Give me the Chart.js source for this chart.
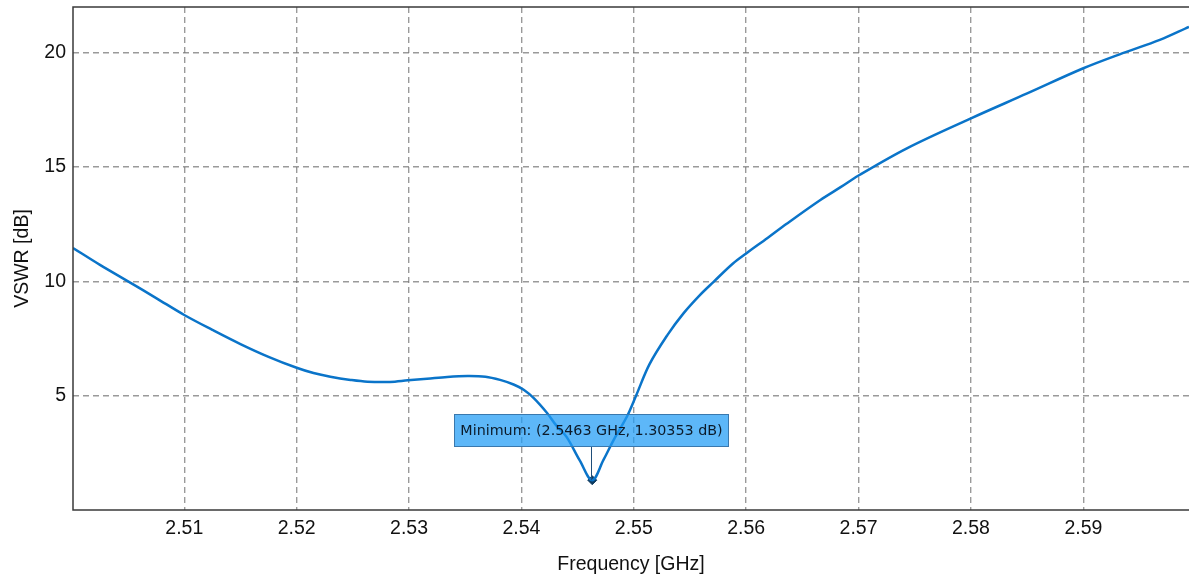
<!DOCTYPE html>
<html>
<head>
<meta charset="utf-8">
<script src="https://cdn.jsdelivr.net/npm/chart.js@4/dist/chart.umd.min.js"></script>
<style>
  html, body { margin: 0; padding: 0; background: #fff; overflow: hidden; }
  #wrap { width: 1189px; height: 578px; position: relative; }
</style>
</head>
<body>
<div id="wrap"><canvas id="vswr-chart"></canvas></div>
<script>
// values
const freqGHz = [
  2.5001, 2.5025, 2.5050, 2.5075, 2.5100, 2.5125, 2.5150, 2.5175, 2.5200, 2.5215,
  2.5230, 2.5248, 2.5263, 2.5283, 2.5299, 2.5316, 2.5334, 2.5352, 2.5368, 2.5381,
  2.5393, 2.5402, 2.5411, 2.5423, 2.5431, 2.5440, 2.5452, 2.5463, 2.5473, 2.5482,
  2.5494, 2.5502, 2.5514, 2.5530, 2.5544, 2.5559, 2.5571, 2.5588, 2.5600, 2.5619,
  2.5636, 2.5666, 2.5684, 2.5700, 2.5743, 2.5800, 2.5850, 2.5900, 2.5935, 2.5968,
  2.5994
];
const vswrDb = [
  11.46, 10.72, 10.00, 9.27, 8.53, 7.88, 7.26, 6.70, 6.22, 5.99,
  5.83, 5.69, 5.61, 5.60, 5.67, 5.74, 5.82, 5.86, 5.83, 5.69,
  5.49, 5.26, 4.89, 4.23, 3.70, 3.21, 2.16, 1.30353, 2.19, 3.06,
  4.10, 5.00, 6.38, 7.66, 8.59, 9.41, 9.98, 10.77, 11.22, 11.90,
  12.52, 13.56, 14.12, 14.63, 15.82, 17.13, 18.22, 19.32, 19.98, 20.56,
  21.13
];
const xTickValues = [2.51, 2.52, 2.53, 2.54, 2.55, 2.56, 2.57, 2.58, 2.59];
const yTickValues = [5, 10, 15, 20];
const minFreq = 2.5463;
const minVswr = 1.30353;
const minLabel = 'Minimum: (2.5463 GHz, 1.30353 dB)';

const axisFont = { family: 'Liberation Sans, Arial, sans-serif', size: 19.5 };
const gridColor = 'rgba(120,120,120,0.75)';

const framePlugin = {
  id: 'frame',
  afterDraw(chart) {
    const { ctx, chartArea } = chart;
    ctx.save();
    ctx.strokeStyle = '#3a3a3a';
    ctx.lineWidth = 1.5;
    ctx.beginPath();
    ctx.moveTo(chartArea.right, chartArea.top);
    ctx.lineTo(chartArea.left, chartArea.top);
    ctx.lineTo(chartArea.left, chartArea.bottom);
    ctx.lineTo(chartArea.right, chartArea.bottom);
    ctx.stroke();
    ctx.restore();
  }
};

const minimumLabel = {
  id: 'minimumLabel',
  afterDatasetsDraw(chart) {
    const { ctx } = chart;
    const xs = chart.scales.x;
    const ys = chart.scales.y;
    const px = xs.getPixelForValue(minFreq);
    const py = ys.getPixelForValue(minVswr);
    ctx.save();
    ctx.font = '14.3px "DejaVu Sans"';
    const w = Math.round(ctx.measureText(minLabel).width + 12);
    const h = 32;
    const bx = Math.round(px - w / 2) - 0.5;
    const by = Math.round(py - 34 - h) + 0.5;

    ctx.strokeStyle = '#1f4e79';
    ctx.lineWidth = 1;
    ctx.beginPath();
    ctx.moveTo(Math.round(px) - 0.5, by + h);
    ctx.lineTo(Math.round(px) - 0.5, py);
    ctx.stroke();

    ctx.fillStyle = 'rgba(30,155,245,0.72)';
    ctx.fillRect(bx, by, w, h);
    ctx.strokeStyle = '#3a78ad';
    ctx.strokeRect(bx, by, w, h);

    ctx.fillStyle = '#0c1b2a';
    ctx.textAlign = 'center';
    ctx.textBaseline = 'middle';
    ctx.fillText(minLabel, bx + w / 2, by + h / 2 + 1);
    ctx.restore();
  }
};

const chartCanvas = document.getElementById('vswr-chart');

new Chart(chartCanvas, {
  type: 'line',
  data: {
    datasets: [
      {
        label: 'VSWR',
        data: freqGHz.map((f, i) => ({ x: f, y: vswrDb[i] })),
        borderColor: '#0a74c9',
        borderWidth: 2.5,
        pointRadius: 0,
        tension: 0.35,
        fill: false
      },
      {
        label: 'Minimum',
        type: 'scatter',
        data: [{ x: minFreq, y: minVswr }],
        pointStyle: 'rectRot',
        pointRadius: 4.5,
        backgroundColor: '#0d3a5f',
        borderColor: '#0d3a5f'
      }
    ]
  },
  options: {
    responsive: true,
    maintainAspectRatio: false,
    animation: false,
    layout: { autoPadding: false, padding: { top: 7, right: 0, left: 0, bottom: 0 } },
    plugins: {
      legend: { display: false },
      tooltip: { enabled: false }
    },
    scales: {
      x: {
        type: 'linear',
        min: 2.5001,
        max: 2.5994,
        afterBuildTicks: scale => { scale.ticks = xTickValues.map(v => ({ value: v })); },
        afterFit: scale => {
          scale.height = 68;
          scale.paddingLeft = 0;
          scale.paddingRight = 0;
        },
        ticks: {
          color: '#111',
          font: axisFont,
          padding: 7,
          maxRotation: 0,
          callback: v => v.toFixed(2)
        },
        grid: { color: gridColor, lineWidth: 1.4, drawTicks: false },
        border: { display: false, dash: [6, 4] },
        title: {
          display: true,
          text: 'Frequency [GHz]',
          color: '#111',
          font: axisFont,
          padding: { top: 0, bottom: 2 }
        }
      },
      y: {
        type: 'linear',
        min: 0,
        max: 22,
        afterBuildTicks: scale => { scale.ticks = yTickValues.map(v => ({ value: v })); },
        afterFit: scale => {
          scale.width = 73;
          scale.paddingTop = 0;
          scale.paddingBottom = 0;
        },
        ticks: {
          color: '#111',
          font: axisFont,
          padding: 7
        },
        grid: { color: gridColor, lineWidth: 1.4, drawTicks: false },
        border: { display: false, dash: [6, 4] },
        title: {
          display: true,
          text: 'VSWR [dB]',
          color: '#111',
          font: axisFont,
          padding: { top: 11, bottom: 0 }
        }
      }
    }
  },
  plugins: [framePlugin, minimumLabel]
});
</script>
</body>
</html>
